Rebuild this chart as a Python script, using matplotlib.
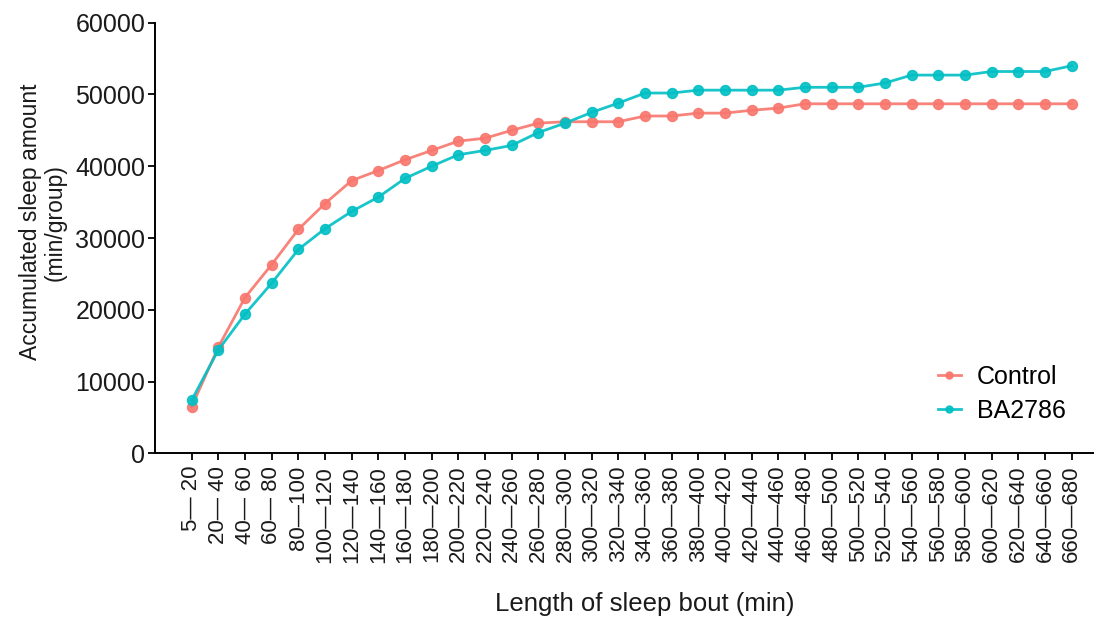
import matplotlib
matplotlib.use("Agg")
import matplotlib.pyplot as plt

# bout length bins (min)
bin_starts = [5] + list(range(20, 680, 20))
bin_ends = list(range(20, 700, 20))
labels = ["%d\u2014%3d" % (a, b) for a, b in zip(bin_starts, bin_ends)]

# accumulated sleep (min/group)
control = [6500, 14800, 21700, 26300, 31200, 34800, 38000, 39400, 40900, 42200,
           43500, 43900, 45000, 46000, 46200, 46200, 46200, 47000, 47000, 47400,
           47400, 47800, 48100, 48700, 48700, 48700, 48700, 48700, 48700, 48700,
           48700, 48700, 48700, 48700]
ba2786 = [7400, 14400, 19400, 23700, 28400, 31300, 33700, 35700, 38300, 40000,
          41600, 42200, 42900, 44700, 46000, 47500, 48800, 50200, 50200, 50600,
          50600, 50600, 50600, 51000, 51000, 51000, 51600, 52700, 52700, 52700,
          53200, 53200, 53200, 54000]

plt.rcParams['font.family'] = ['Liberation Sans', 'DejaVu Sans']

fig = plt.figure(figsize=(10.97, 6.25), dpi=100)
ax = fig.add_axes([155 / 1097, 1 - 453.3 / 625, (1093 - 155) / 1097, (453.3 - 22.7) / 625])

x = list(range(len(labels)))
ax.plot(x, control, color="#F8766D", lw=2.0, marker="o", ms=7.2, alpha=0.9, label="Control")
ax.plot(x, ba2786, color="#00BFC4", lw=2.0, marker="o", ms=7.2, alpha=0.9, label="BA2786")

ax.set_xlim(-1.375, 33.8)
ax.set_ylim(0, 60000)
ax.set_yticks(range(0, 60001, 10000))
ax.set_xticks(x)
ax.set_xticklabels(labels, rotation=90, fontsize=16, color="#1a1a1a")
ax.tick_params(axis="y", labelsize=18, labelcolor="#1a1a1a", length=5, width=1.3, pad=2)
ax.tick_params(axis="x", length=5, width=1.3, pad=4)

for s in ["top", "right"]:
    ax.spines[s].set_visible(False)
for s in ["left", "bottom"]:
    ax.spines[s].set_linewidth(1.4)

ax.set_ylabel("Accumulated sleep amount\n(min/group)", fontsize=16.5, color="#1a1a1a", linespacing=1.1)
ax.yaxis.set_label_coords(-0.094, 0.537)
ax.set_xlabel("Length of sleep bout (min)", fontsize=18.5, color="#1a1a1a")
ax.xaxis.set_label_coords(0.522, -0.322)

ax.legend(loc="center left", bbox_to_anchor=(938 / 1097, 1 - 394 / 625), bbox_transform=fig.transFigure,
          frameon=False, fontsize=18, handlelength=0.9, handletextpad=0.65, labelspacing=0.4,
          markerscale=0.7, borderpad=0, borderaxespad=0)

fig.savefig("out.png", dpi=100)
